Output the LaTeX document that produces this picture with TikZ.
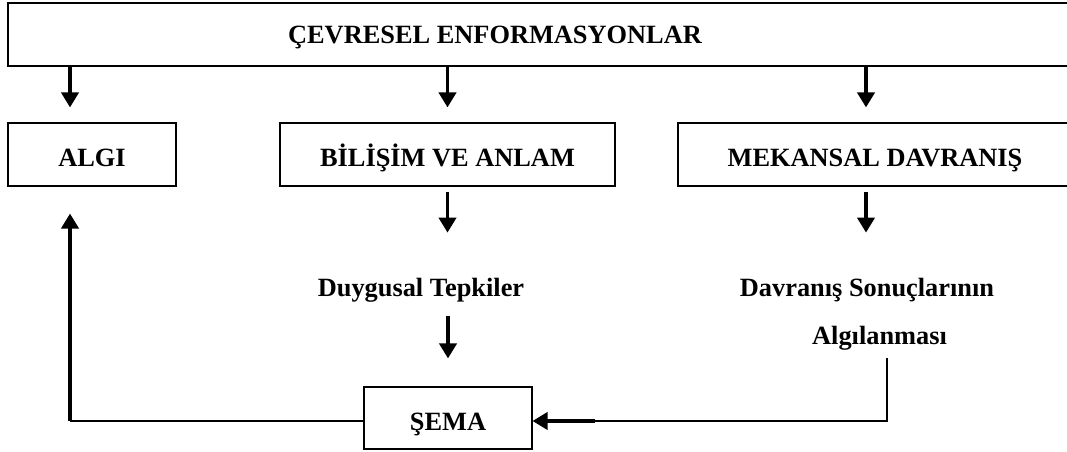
\documentclass[tikz,border=0pt]{standalone}
\usepackage{fontspec}
\setmainfont{Liberation Serif}
\usetikzlibrary{arrows.meta}

\begin{document}
\begin{tikzpicture}[
        kutu/.style = {draw, line width = 0.6pt, minimum height = 1.26cm},
        yazi/.style = {font = \fontsize{15}{18}\selectfont\bfseries, inner sep = 0pt,
                       text height = 0.5cm, text depth = 0cm},
        ok/.style = {line width = 2.2pt, -{Triangle[width = 0.34cm, length = 0.3cm]}},
        ince/.style = {line width = 0.6pt}
    ]
        \useasboundingbox (0, 0) rectangle (21.34, 9.04);

        \node [kutu, minimum width = 21.28cm] (cevre) at (10.80, 8.35) {};
        \node [yazi] (cevreyazi) at (9.90, 8.41) {ÇEVRESEL ENFORMASYONLAR};

        \node [kutu, yazi, minimum width = 3.36cm] (algi) at (1.84, 5.95) {ALGI};
        \node [kutu, yazi, minimum width = 6.70cm] (bilisim) at (8.95, 5.95) {BİLİŞİM VE ANLAM};
        \node [kutu, yazi, minimum width = 7.88cm] (mekansal) at (17.50, 5.95) {MEKANSAL DAVRANIŞ};

        \node [yazi] (duygu) at (8.42, 3.35) {Duygusal Tepkiler};
        \node [yazi] (sonuc) at (17.34, 3.35) {Davranış Sonuçlarının};
        \node [yazi] (algilanma) at (17.59, 2.39) {Algılanması};

        \node [kutu, yazi, minimum width = 3.36cm, minimum height = 1.24cm] (sema) at (8.96, 0.68) {ŞEMA};

        \coordinate (donus) at (1.40, 0.62);
        \coordinate (kose) at (17.74, 0.62);
        \coordinate (kirilma) at (11.90, 0.62);

        \draw [ok, shorten >= 0.3cm] (cevre.south -| 1.40, 0) -- (algi.north -| 1.40, 0);
        \draw [ok, shorten >= 0.3cm] (cevre.south -| bilisim.north) -- (bilisim.north);
        \draw [ok, shorten >= 0.3cm] (cevre.south -| 17.32, 0) -- (mekansal.north -| 17.32, 0);

        \draw [ok, shorten <= 0.1cm, shorten >= 0.78cm] (bilisim.south) -- (bilisim.south |- duygu.north);
        \draw [ok, shorten <= 0.1cm, shorten >= 0.78cm] (mekansal.south -| 17.32, 0) -- (sonuc.north -| 17.32, 0);
        \draw [ok, shorten <= 0.38cm, shorten >= 0.56cm] (duygu.south -| sema.north) -- (sema.north);

        \draw [ince, shorten <= 0.26cm] (algilanma.south -| kose) -- (kose) -- (kirilma);
        \draw [ok] (kirilma) -- (sema.east |- kirilma);

        \draw [ince] (sema.west |- donus) -- (donus);
        \draw [ok, shorten >= 0.54cm] (donus) -- (algi.south -| donus);
    \end{tikzpicture}
\end{document}
